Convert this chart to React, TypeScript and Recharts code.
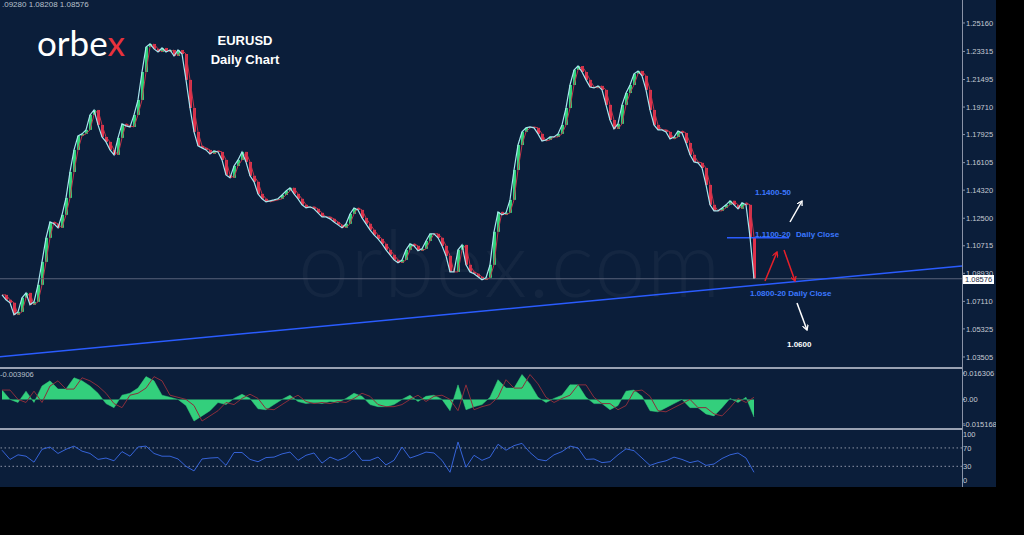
import React from 'react';
import { Area, Bar, Cell, ComposedChart, Line, LineChart, ReferenceLine, XAxis, YAxis } from 'recharts';

// daily closes, one slot = 4px on the original chart
const closes = [
  1.0753, 1.0721, 1.0702, 1.0624, 1.0643, 1.0734, 1.0766, 1.0689, 1.0708, 1.0818,
  1.0967, 1.1123, 1.1226, 1.1214, 1.1188, 1.1272, 1.1382, 1.155, 1.1693, 1.1784,
  1.1797, 1.1823, 1.192, 1.1952, 1.1855, 1.1777, 1.1745, 1.1693, 1.1661, 1.1771,
  1.1862, 1.1849, 1.1842, 1.192, 1.2017, 1.2198, 1.236, 1.238, 1.2348, 1.2328,
  1.2354, 1.2328, 1.2341, 1.2302, 1.2341, 1.2315, 1.2147, 1.1965, 1.181, 1.1719,
  1.1706, 1.1693, 1.1667, 1.1687, 1.168, 1.1628, 1.1531, 1.1512, 1.1589, 1.1628,
  1.168, 1.1615, 1.1525, 1.1486, 1.1408, 1.1376, 1.1356, 1.1363, 1.1369, 1.1376,
  1.1401, 1.1427, 1.1447, 1.1408, 1.1376, 1.1337, 1.1317, 1.1324, 1.1311, 1.1285,
  1.1259, 1.1259, 1.1246, 1.1226, 1.1207, 1.1188, 1.1214, 1.1278, 1.1317, 1.1304,
  1.1252, 1.1214, 1.1175, 1.1142, 1.1116, 1.1084, 1.1045, 1.1013, 1.098, 1.0961,
  1.098, 1.1045, 1.1084, 1.1071, 1.1039, 1.1052, 1.1103, 1.1149, 1.1149, 1.1123,
  1.1071, 1.1006, 1.0902, 1.0902, 1.1045, 1.1077, 1.0948, 1.0902, 1.089, 1.087,
  1.0851, 1.0864, 1.0948, 1.1162, 1.1291, 1.1272, 1.1285, 1.1369, 1.1563, 1.1725,
  1.181, 1.1836, 1.1842, 1.1836, 1.1797, 1.1751, 1.1758, 1.1777, 1.1777, 1.1797,
  1.1855, 1.1965, 1.2114, 1.2211, 1.2237, 1.2198, 1.2147, 1.2101, 1.2095, 1.2108,
  1.2082, 1.1985, 1.1887, 1.1829, 1.1862, 1.1985, 1.2062, 1.2114, 1.2186, 1.2205,
  1.2173, 1.2082, 1.1952, 1.1855, 1.1823, 1.1823, 1.181, 1.1764, 1.1777, 1.1816,
  1.1803, 1.1738, 1.1661, 1.1615, 1.1609, 1.1576, 1.1466, 1.1337, 1.1298, 1.1298,
  1.1317, 1.1337, 1.1363, 1.1337, 1.1311, 1.135, 1.1337, 1.1129, 1.0858,
];

// MACD histogram, one value every 2 slots
const macd = [
  0.0058, 0, -0.0019, 0.0051, -0.0019, 0.0083, 0.0115, 0.0064, 0.0064, 0.0134,
  0.0115, 0.0083, 0.0038, -0.0026, -0.0051, 0.0026, 0.0038, 0.007, 0.0141, 0.0115,
  0.0026, 0.0013, 0, -0.0038, -0.0134, -0.0102, -0.007, -0.0019, -0.0032, 0.0006,
  0.0032, 0.0006, -0.0058, -0.0064, -0.0032, 0, 0.0026, -0.0013, -0.0026, -0.0019,
  -0.0026, -0.0013, -0.0019, 0.0006, 0.0038, 0.0019, -0.0032, -0.0045, -0.0045, -0.0032,
  0, 0.0026, -0.0013, 0.0019, 0.0026, 0, -0.007, 0.009, -0.0064, -0.0045,
  -0.0032, 0.0013, 0.0122, 0.007, 0.007, 0.0154, 0.0096, 0.0013, -0.0019, 0.0006,
  0.0026, 0.009, 0.009, 0.0013, -0.0026, -0.0026, -0.0064, -0.0038, 0.0051, 0.0058,
  0.0019, -0.007, -0.0077, -0.0051, -0.0026, 0, -0.0051, -0.0051, -0.009, -0.0102,
  -0.0051, 0.0006, -0.0019, 0.0013, -0.0109,
];

// RSI, one value every 2 slots
const rsi = [
  65, 45, 55, 52, 39, 67, 72, 58, 67, 74, 63, 58, 45, 48, 42, 62, 52, 72, 74, 58,
  52, 52, 46, 30, 20, 46, 48, 49, 32, 60, 60, 45, 40, 49, 50, 57, 61, 43, 54, 59,
  37, 50, 43, 50, 65, 43, 43, 50, 33, 43, 72, 48, 54, 61, 59, 43, 17, 83, 28, 54,
  43, 50, 78, 65, 75, 80, 60, 45, 42, 55, 62, 74, 70, 45, 46, 38, 40, 55, 68, 64,
  48, 32, 38, 42, 50, 45, 38, 42, 32, 35, 47, 55, 59, 48, 17,
];

const priceTicks = [1.2516, 1.23315, 1.21495, 1.1971, 1.17925, 1.16105, 1.1432, 1.125, 1.10715, 1.0893, 1.0711, 1.05325, 1.03505];
const macdTicks = [0.016306, 0, -0.015168];
const rsiTicks = [100, 70, 30, 0];
const lastPrice = 1.08576;

const priceData = closes.map((c, i) => {
  const prev = i > 0 ? closes[i - 1] : c;
  return { i: i + 0.5, close: c, prev, body: [Math.min(prev, c), Math.max(prev, c)], up: c >= prev };
});
const macdData = macd.map((v, i) => ({ i: i * 2 + 0.5, v, sig: i > 0 ? macd[i - 1] : v }));
const rsiData = rsi.map((v, i) => ({ i: i * 2 + 0.5, v }));

const BG = '#0b1e3a';
const AXIS = '#8a93a6';
const tickStyle = { fill: '#c5cad3', fontSize: 7.5, fontFamily: 'Liberation Sans, Arial' };
const X_MAX = 240.5;
const W = 996;

const App: React.FC = () => {
  return (
    <div style={{ position: 'absolute', left: 0, top: 0, width: 1024, height: 535, background: '#000', overflow: 'hidden' }}>
      <div style={{ position: 'absolute', left: 0, top: 0, width: W, height: 487, background: BG }} />

      {/* watermark */}
      <div
        style={{
          position: 'absolute', left: 298, top: 206, fontFamily: 'Lato', fontSize: 92, fontWeight: 300,
          color: 'rgba(255,255,255,0.04)', letterSpacing: 1,
        }}
      >
        orbex.com
      </div>

      <div style={{ position: 'absolute', left: 0, top: 0 }}>
        <ComposedChart width={W} height={368} data={priceData} margin={{ top: 0, right: 0, bottom: 0, left: 0 }}>
          <XAxis dataKey="i" type="number" domain={[0, X_MAX]} hide />
          <YAxis
            orientation="right"
            width={34}
            domain={[1.0279, 1.2665]}
            ticks={priceTicks}
            interval={0}
            tickFormatter={(v: number) => v.toFixed(5)}
            tick={tickStyle}
            tickSize={3}
            tickMargin={1}
            axisLine={false}
            tickLine={{ stroke: AXIS }}
            textAnchor="start"
          />
          <ReferenceLine y={lastPrice} stroke="#59627a" strokeWidth={1} />
          <ReferenceLine segment={[{ x: 0, y: 1.0352 }, { x: X_MAX, y: 1.0941 }]} stroke="#2a5cff" strokeWidth={1.5} />
          <ReferenceLine segment={[{ x: 181.75, y: 1.1123 }, { x: 197.25, y: 1.1123 }]} stroke="#2a5cff" strokeWidth={1.5} />
          <Bar dataKey="body" barSize={3} isAnimationActive={false}>
            {priceData.map((d) => (
              <Cell key={d.i} fill={d.up ? '#2fd17a' : '#e0314b'} />
            ))}
          </Bar>
          <Line dataKey="prev" type="linear" stroke="#c0374a" strokeWidth={1} dot={false} activeDot={false} isAnimationActive={false} />
          <Line dataKey="close" type="linear" stroke="#a8e6ee" strokeWidth={1.2} dot={false} activeDot={false} isAnimationActive={false} />
        </ComposedChart>
      </div>

      <div style={{ position: 'absolute', left: 0, top: 370 }}>
        <ComposedChart width={W} height={58} data={macdData} margin={{ top: 0, right: 0, bottom: 0, left: 0 }}>
          <XAxis dataKey="i" type="number" domain={[0, X_MAX]} hide />
          <YAxis
            orientation="right"
            width={34}
            domain={[-0.0177, 0.0182]}
            ticks={macdTicks}
            interval={0}
            tickFormatter={(v: number) => (v === 0 ? '0.00' : v.toFixed(6))}
            tick={tickStyle}
            tickSize={3}
            tickMargin={-2}
            axisLine={false}
            tickLine={{ stroke: AXIS }}
            textAnchor="start"
          />
          <Area dataKey="v" type="linear" baseValue={0} fill="#33cf7c" fillOpacity={1} stroke="#33cf7c" strokeWidth={0.5} activeDot={false} isAnimationActive={false} />
          <Line dataKey="sig" type="linear" stroke="#8a2e3c" strokeWidth={1} dot={false} activeDot={false} isAnimationActive={false} />
        </ComposedChart>
      </div>

      <div style={{ position: 'absolute', left: 0, top: 430 }}>
        <LineChart width={W} height={57} data={rsiData} margin={{ top: 0, right: 0, bottom: 0, left: 0 }}>
          <XAxis dataKey="i" type="number" domain={[0, X_MAX]} hide />
          <YAxis
            orientation="right"
            width={34}
            domain={[-15, 109]}
            ticks={rsiTicks}
            interval={0}
            tick={tickStyle}
            tickSize={3}
            tickMargin={-2}
            axisLine={false}
            tickLine={false}
            textAnchor="start"
          />
          <ReferenceLine y={70} stroke="#8c94a6" strokeDasharray="1.5 2.5" />
          <ReferenceLine y={30} stroke="#8c94a6" strokeDasharray="1.5 2.5" />
          <Line dataKey="v" type="linear" stroke="#3563d8" strokeWidth={1} dot={false} activeDot={false} isAnimationActive={false} />
        </LineChart>
      </div>

      {/* panel separators and price axis line */}
      <div style={{ position: 'absolute', left: 0, top: 367, width: 962, height: 2, background: '#9aa2b3' }} />
      <div style={{ position: 'absolute', left: 0, top: 428, width: 962, height: 2, background: '#9aa2b3' }} />
      <div style={{ position: 'absolute', left: 962, top: 0, width: 1, height: 487, background: AXIS }} />

      {/* last price box */}
      <div
        style={{
          position: 'absolute', left: 963, top: 275, width: 31, height: 9, background: '#fff',
          color: '#1b2a44', fontFamily: 'Liberation Sans, Arial', fontSize: 7.5, lineHeight: '9px', paddingLeft: 2,
          boxSizing: 'border-box',
        }}
      >
        1.08576
      </div>

      {/* header texts */}
      <div style={{ position: 'absolute', left: 2, top: 0, fontFamily: 'Liberation Sans, Arial', fontSize: 8, color: '#b8c0cc' }}>
        .09280 1.08208 1.08576
      </div>
      <div style={{ position: 'absolute', left: 0, top: 370, fontFamily: 'Liberation Sans, Arial', fontSize: 7.5, color: '#b8c0cc' }}>
        -0.003906
      </div>
      <div style={{ position: 'absolute', left: 37, top: 21, fontFamily: 'Lato', fontSize: 35, fontWeight: 400, color: '#fff', letterSpacing: 0 }}>
        orbe<span style={{ color: '#e8323c' }}>x</span>
      </div>
      <div
        style={{
          position: 'absolute', left: 195, top: 31, width: 100, textAlign: 'center', fontFamily: 'Liberation Sans, Arial',
          fontWeight: 700, fontSize: 13, color: '#fff', lineHeight: '19px',
        }}
      >
        EURUSD
        <br />
        Daily Chart
      </div>

      {/* annotations */}
      <svg width={1024} height={535} style={{ position: 'absolute', left: 0, top: 0, pointerEvents: 'none' }}>
        <defs>
          <marker id="hw" markerWidth="6" markerHeight="6" refX="5" refY="3" orient="auto" markerUnits="userSpaceOnUse">
            <path d="M0,0 L5,3 L0,6" fill="none" stroke="#fff" strokeWidth={1.3} />
          </marker>
          <marker id="hr" markerWidth="6" markerHeight="6" refX="5" refY="3" orient="auto" markerUnits="userSpaceOnUse">
            <path d="M0,0 L5,3 L0,6" fill="none" stroke="#e8202a" strokeWidth={1.3} />
          </marker>
        </defs>
        <g fontFamily="Liberation Sans, Arial" fontWeight={700} fontSize={8}>
          <text x={755} y={195} fill="#3b78ff">1.1400-50</text>
          <text x={755} y={237} fill="#3b78ff">1.1100-20</text>
          <text x={796} y={237} fill="#3b78ff">Daily Close</text>
          <text x={750} y={296} fill="#3b78ff">1.0800-20 Daily Close</text>
          <text x={787} y={347} fill="#fff">1.0600</text>
        </g>
        <line x1={790} y1={222} x2={802} y2={201} stroke="#fff" strokeWidth={1.5} markerEnd="url(#hw)" />
        <line x1={765} y1={281} x2={777} y2={252} stroke="#e8202a" strokeWidth={1.5} markerEnd="url(#hr)" />
        <line x1={784} y1={250} x2={795} y2={281} stroke="#e8202a" strokeWidth={1.5} markerEnd="url(#hr)" />
        <line x1={797} y1={303} x2={807} y2={330} stroke="#fff" strokeWidth={1.5} markerEnd="url(#hw)" />
      </svg>
    </div>
  );
};

export default App;
